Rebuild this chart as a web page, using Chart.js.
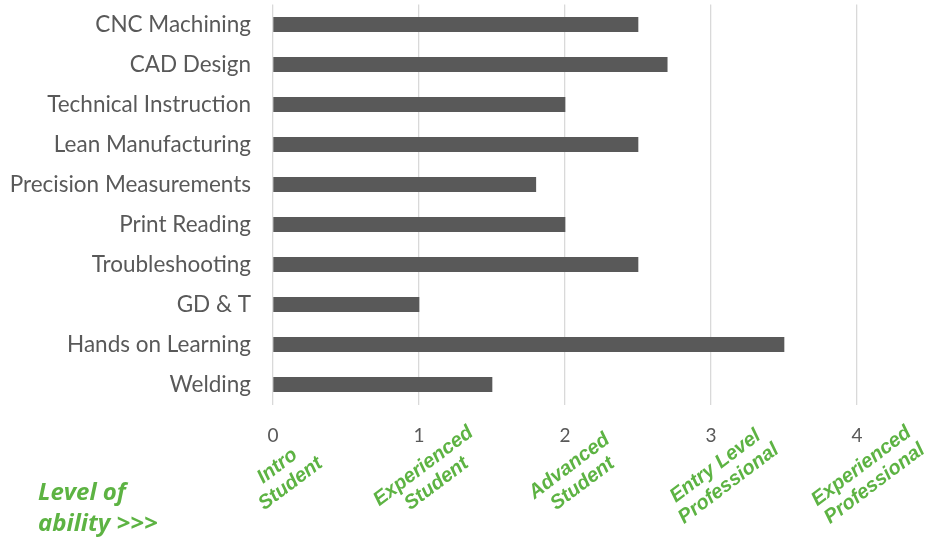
<!DOCTYPE html>
<html>
<head>
<meta charset="utf-8">
<title>Skill levels</title>
<script src="https://cdn.jsdelivr.net/npm/chart.js@4.4.1/dist/chart.umd.min.js"></script>
<style>
  html, body { margin: 0; padding: 0; background: #ffffff; }
  #wrap { position: relative; width: 939px; height: 544px; }
</style>
</head>
<body>
<div id="wrap"><canvas id="skillsChart" width="939" height="544"></canvas></div>
<script>
// skills and the rated level for each one
const skills = [
    'CNC Machining',
    'CAD Design',
    'Technical Instruction',
    'Lean Manufacturing',
    'Precision Measurements',
    'Print Reading',
    'Troubleshooting',
    'GD & T',
    'Hands on Learning',
    'Welding'
];
const levels = [2.5, 2.7, 2.0, 2.5, 1.8, 2.0, 2.5, 1.0, 3.5, 1.5];

// numeric ticks and the ability names printed under them
const tickValues = [0, 1, 2, 3, 4];
const abilityNames = [
    ['Intro', 'Student'],
    ['Experienced', 'Student'],
    ['Advanced', 'Student'],
    ['Entry Level', 'Professional'],
    ['Experienced', 'Professional']
];
const axisNote = ['Level of', 'ability >>>'];

const GREEN = '#5db343';
const GREY_TEXT = '#595959';

// draws the slanted green names under each tick and the note at bottom left
const abilityLabels = {
    id: 'abilityLabels',
    afterDraw(chart) {
        const ctx = chart.ctx;
        const xScale = chart.scales.x;
        ctx.save();
        ctx.fillStyle = GREEN;
        ctx.font = 'italic bold 20px "Liberation Sans", Arial, sans-serif';
        ctx.textAlign = 'center';
        ctx.textBaseline = 'middle';
        abilityNames.forEach((lines, i) => {
            const x = xScale.getPixelForValue(tickValues[i]) + 11;
            ctx.save();
            ctx.translate(x, 475);
            ctx.rotate(-37 * Math.PI / 180);
            lines.forEach((line, j) => {
                ctx.fillText(line, 0, (j - 0.5) * 22);
            });
            ctx.restore();
        });

        ctx.font = 'italic bold 24px "Open Sans", Lato, sans-serif';
        ctx.textAlign = 'left';
        ctx.textBaseline = 'alphabetic';
        ctx.fillText(axisNote[0], 38, 500);
        ctx.fillText(axisNote[1], 38, 531);
        ctx.restore();
    }
};

const ctx = document.getElementById('skillsChart').getContext('2d');
new Chart(ctx, {
    type: 'bar',
    data: {
        labels: skills,
        datasets: [{
            data: levels,
            backgroundColor: '#595959',
            borderWidth: 0,
            barThickness: 14.5
        }]
    },
    options: {
        indexAxis: 'y',
        responsive: false,
        animation: false,
        layout: {
            padding: { top: 4.5, right: 82, left: 0, bottom: 0 }
        },
        plugins: {
            legend: { display: false },
            tooltip: { enabled: false }
        },
        scales: {
            x: {
                min: 0,
                max: 4,
                afterFit(scale) { scale.height = 139.5; },
                afterBuildTicks(scale) {
                    scale.ticks = tickValues.map(v => ({ value: v }));
                },
                grid: { color: '#d9d9d9', lineWidth: 1.3, drawTicks: false },
                border: { display: false },
                ticks: {
                    color: GREY_TEXT,
                    padding: 20,
                    font: { family: 'Lato', size: 19 }
                }
            },
            y: {
                afterFit(scale) {
                    scale.width = 273;
                    // label padding would otherwise push the plot down
                    scale.paddingTop = 0;
                    scale.paddingBottom = 0;
                },
                grid: { display: false, drawTicks: false },
                border: { display: false },
                ticks: {
                    color: GREY_TEXT,
                    padding: 22,
                    font: { family: 'Lato', size: 22.5 }
                }
            }
        }
    },
    plugins: [abilityLabels]
});
</script>
</body>
</html>
